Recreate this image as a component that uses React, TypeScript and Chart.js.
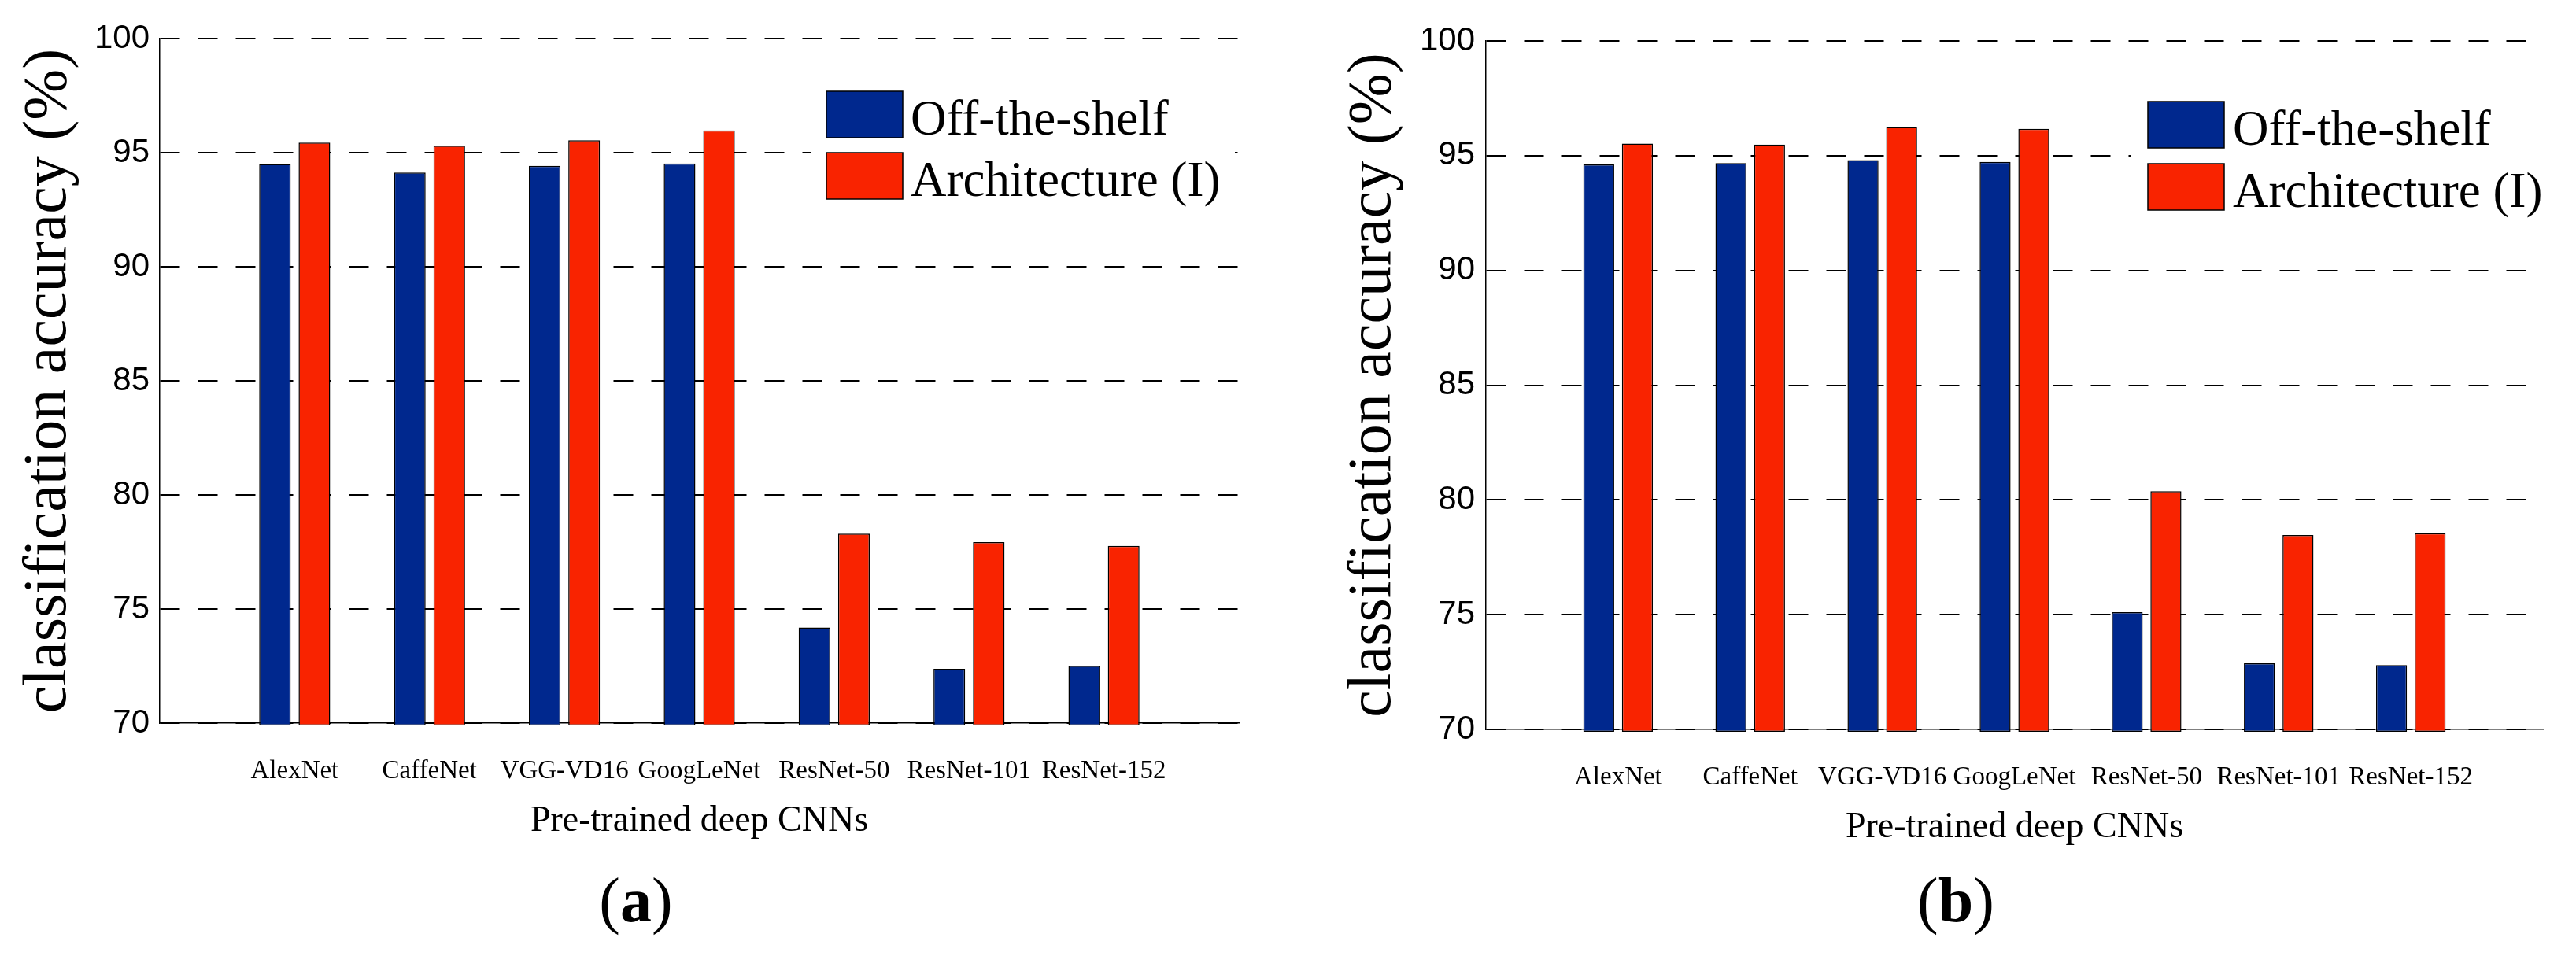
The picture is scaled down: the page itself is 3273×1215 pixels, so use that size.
import { useEffect, useRef } from 'react';
import { Chart, registerables } from 'chart.js';

Chart.register(...registerables);

// categories on the x axis (positions 1..7, axis runs 0..8)
const categories = ['AlexNet', 'CaffeNet', 'VGG-VD16', 'GoogLeNet', 'ResNet-50', 'ResNet-101', 'ResNet-152'];
const seriesNames = ['Off-the-shelf', 'Architecture (I)'];

// panel (a)
const offTheShelfA = [94.5, 94.13, 94.42, 94.53, 74.19, 72.38, 72.51];
const architectureA = [95.44, 95.3, 95.54, 95.97, 78.3, 77.93, 77.77];
// panel (b)
const offTheShelfB = [94.62, 94.68, 94.81, 94.73, 75.11, 72.88, 72.8];
const architectureB = [95.53, 95.48, 96.25, 96.17, 80.38, 78.47, 78.55];

const yMin = 70;
const yMax = 100;
const yStep = 5;
const barBase = 69.9;

const BLUE = '#00288E';
const RED = '#F92300';
const SERIF = '"Liberation Serif", "Times New Roman", serif';
const SANS = '"Liberation Sans", Arial, sans-serif';
const H = 1215;
const X_AXIS_H = 158;

interface PanelSpec {
    tag: string;
    off: number[];
    arch: number[];
    left: number;
    width: number;
    padTop: number;
    padRight: number;
    padBottom: number;
    yAxisWidth: number;
    yTickPad: number;
    yTitlePad: number;
    legendX: number;
    legendY: number;
    legendGap: number;
    textGap: number;
    bg: [number, number, number, number];
    captionX: number;
}

const panels: PanelSpec[] = [
    {
        tag: 'a', off: offTheShelfA, arch: architectureA,
        left: 0, width: 1636, padTop: 49, padRight: 62, padBottom: 138,
        yAxisWidth: 203, yTickPad: 13, yTitlePad: 16,
        legendX: 847, legendY: 67, legendGap: 78, textGap: 10,
        bg: [828, 51, 538, 170], captionX: 808,
    },
    {
        tag: 'b', off: offTheShelfB, arch: architectureB,
        left: 1636, width: 1637, padTop: 52, padRight: 26, padBottom: 130,
        yAxisWidth: 252, yTickPad: 14, yTitlePad: 63,
        legendX: 841, legendY: 77, legendGap: 79, textGap: 11,
        bg: [820, 58, 538, 180], captionX: 2485,
    },
];

// legend drawn inside the plot, with a white box that hides the grid behind it
const boxLegend = {
    id: 'boxLegend',
    afterDatasetsDraw(chart: any, _args: any, opts: any) {
        const { ctx, chartArea } = chart;
        const [bx, by, bw, bh] = opts.bg;
        ctx.save();
        ctx.fillStyle = '#fff';
        ctx.fillRect(chartArea.left + bx, chartArea.top + by, bw, bh);
        const x0 = chartArea.left + opts.x;
        chart.data.datasets.forEach((ds: any, i: number) => {
            const y = chartArea.top + opts.y + i * opts.gap;
            ctx.fillStyle = ds.backgroundColor;
            ctx.fillRect(x0, y, 97, 59);
            ctx.lineWidth = 1.5;
            ctx.strokeStyle = '#000';
            ctx.strokeRect(x0, y, 97, 59);
            ctx.fillStyle = '#000';
            ctx.font = `63px ${SERIF}`;
            ctx.textBaseline = 'alphabetic';
            ctx.textAlign = 'left';
            ctx.fillText(ds.label, x0 + 97 + opts.textGap, y + 55);
        });
        ctx.restore();
    },
};

function makeConfig(p: PanelSpec): any {
    const barStyle = {
        borderColor: '#000',
        borderWidth: 1.5,
        borderSkipped: false,
        base: barBase,
        clip: false,
        categoryPercentage: 0.585,
        barPercentage: 0.8,
    };
    return {
        type: 'bar',
        data: {
            datasets: [
                { label: seriesNames[0], data: p.off.map((v, i) => ({ x: i + 1, y: v })), backgroundColor: BLUE, ...barStyle },
                { label: seriesNames[1], data: p.arch.map((v, i) => ({ x: i + 1, y: v })), backgroundColor: RED, ...barStyle },
            ],
        },
        options: {
            animation: false,
            responsive: false,
            devicePixelRatio: 1,
            events: [],
            layout: { padding: { left: 0, top: p.padTop, right: p.padRight, bottom: p.padBottom } },
            plugins: {
                legend: { display: false },
                tooltip: { enabled: false },
                boxLegend: { x: p.legendX, y: p.legendY, gap: p.legendGap, textGap: p.textGap, bg: p.bg },
            },
            scales: {
                x: {
                    type: 'linear',
                    min: 0,
                    max: categories.length + 1,
                    offset: false,
                    afterFit: (s: any) => { s.height = X_AXIS_H; },
                    grid: { display: false, drawTicks: false, offset: false },
                    border: { display: true, color: '#000', width: 1.5 },
                    ticks: {
                        stepSize: 1,
                        autoSkip: false,
                        maxRotation: 0,
                        minRotation: 0,
                        padding: 42,
                        color: '#000',
                        font: { family: SERIF, size: 33 },
                        callback: (v: any) => categories[Number(v) - 1] ?? '',
                    },
                    title: {
                        display: true,
                        text: 'Pre-trained deep CNNs',
                        color: '#000',
                        font: { family: SERIF, size: 46 },
                        padding: { top: 0, bottom: 5 },
                    },
                },
                y: {
                    min: yMin,
                    max: yMax,
                    beginAtZero: false,
                    afterFit: (s: any) => { s.width = p.yAxisWidth; },
                    grid: { color: '#000', lineWidth: 2, drawTicks: false },
                    border: { display: true, color: '#000', width: 1.5, dash: [25, 23] },
                    ticks: {
                        stepSize: yStep,
                        padding: p.yTickPad,
                        color: '#000',
                        font: { family: SANS, size: 42 },
                    },
                    title: {
                        display: true,
                        text: 'classification accuracy (%)',
                        color: '#000',
                        font: { family: SERIF, size: 78 },
                        padding: { top: p.yTitlePad, bottom: 0 },
                    },
                },
            },
        },
        plugins: [boxLegend],
    };
}

function Panel({ spec }: { spec: PanelSpec }) {
    const canvasRef = useRef<HTMLCanvasElement>(null);

    useEffect(() => {
        if (!canvasRef.current) return;
        const chart = new Chart(canvasRef.current, makeConfig(spec));
        return () => chart.destroy();
    }, [spec]);

    return (
        <>
            <canvas
                ref={canvasRef}
                width={spec.width}
                height={H}
                style={{ position: 'absolute', left: spec.left, top: 0, width: spec.width, height: H }}
            />
            <div
                style={{
                    position: 'absolute',
                    left: spec.captionX - 150,
                    width: 300,
                    top: 1104,
                    textAlign: 'center',
                    fontFamily: SERIF,
                    fontSize: 80,
                    lineHeight: '80px',
                    color: '#000',
                }}
            >
                (<b>{spec.tag}</b>)
            </div>
        </>
    );
}

export default function App() {
    return (
        <div style={{ position: 'fixed', left: 0, top: 0, width: 3273, height: H, background: '#fff', overflow: 'hidden' }}>
            {panels.map(p => <Panel key={p.tag} spec={p} />)}
        </div>
    );
}
